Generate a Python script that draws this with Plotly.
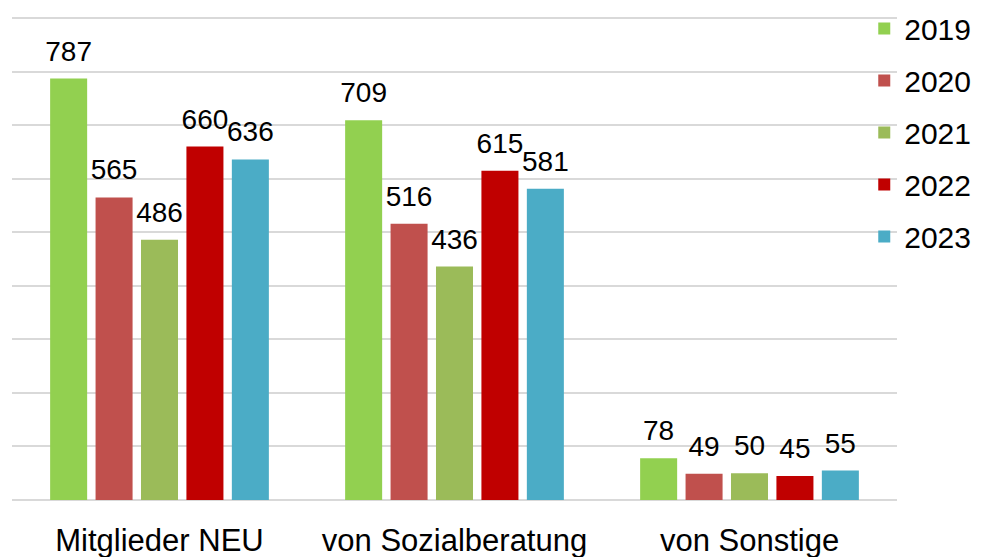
import plotly.graph_objects as go

categories = ["Mitglieder NEU", "von Sozialberatung", "von Sonstige"]
years = ["2019", "2020", "2021", "2022", "2023"]
values = {
    "2019": [787, 709, 78],
    "2020": [565, 516, 49],
    "2021": [486, 436, 50],
    "2022": [660, 615, 45],
    "2023": [636, 581, 55],
}
colors = {
    "2019": "#92D050",
    "2020": "#C0504D",
    "2021": "#9BBB59",
    "2022": "#C00000",
    "2023": "#4BACC6",
}

font_family = "Liberation Sans, Arial, sans-serif"
GAP = 0.23

fig = go.Figure()
for y in years:
    fig.add_trace(go.Bar(
        x=categories, y=values[y], name=y,
        marker=dict(color=colors[y], line=dict(width=0)),
        legendgroup=y, offsetgroup=y,
    ))
# value labels (text points grouped like the bars)
for y in years:
    fig.add_trace(go.Scatter(
        x=categories, y=values[y], mode="markers+text",
        text=[str(v) for v in values[y]], textposition="top center",
        marker=dict(size=16, color="rgba(0,0,0,0)"),
        textfont=dict(size=28, color="black", family=font_family),
        offsetgroup=y, showlegend=False, hoverinfo="skip",
        cliponaxis=False,
    ))

fig.update_layout(
    width=974, height=549,
    margin=dict(l=4, r=85, t=7, b=57, autoexpand=False),
    plot_bgcolor="white", paper_bgcolor="white",
    barmode="group", bargap=GAP, bargroupgap=0.185,
    scattermode="group", scattergap=GAP,
    font=dict(family=font_family, size=28, color="black"),
    showlegend=True,
    legend=dict(x=0.963, xanchor="left", y=1.026, yanchor="top",
                font=dict(size=30, color="black"),
                tracegroupgap=10, itemwidth=30,
                bgcolor="rgba(0,0,0,0)"),
)
fig.update_yaxes(range=[0, 905.6], dtick=100, showticklabels=False,
                 showgrid=True, gridcolor="#D9D9D9", gridwidth=1.5,
                 zeroline=True, zerolinecolor="#D9D9D9", zerolinewidth=1.5,
                 showline=False)
fig.update_xaxes(showline=False, ticks="", tickfont=dict(size=31),
                 ticklabelstandoff=19)

fig.write_html("out.html")
